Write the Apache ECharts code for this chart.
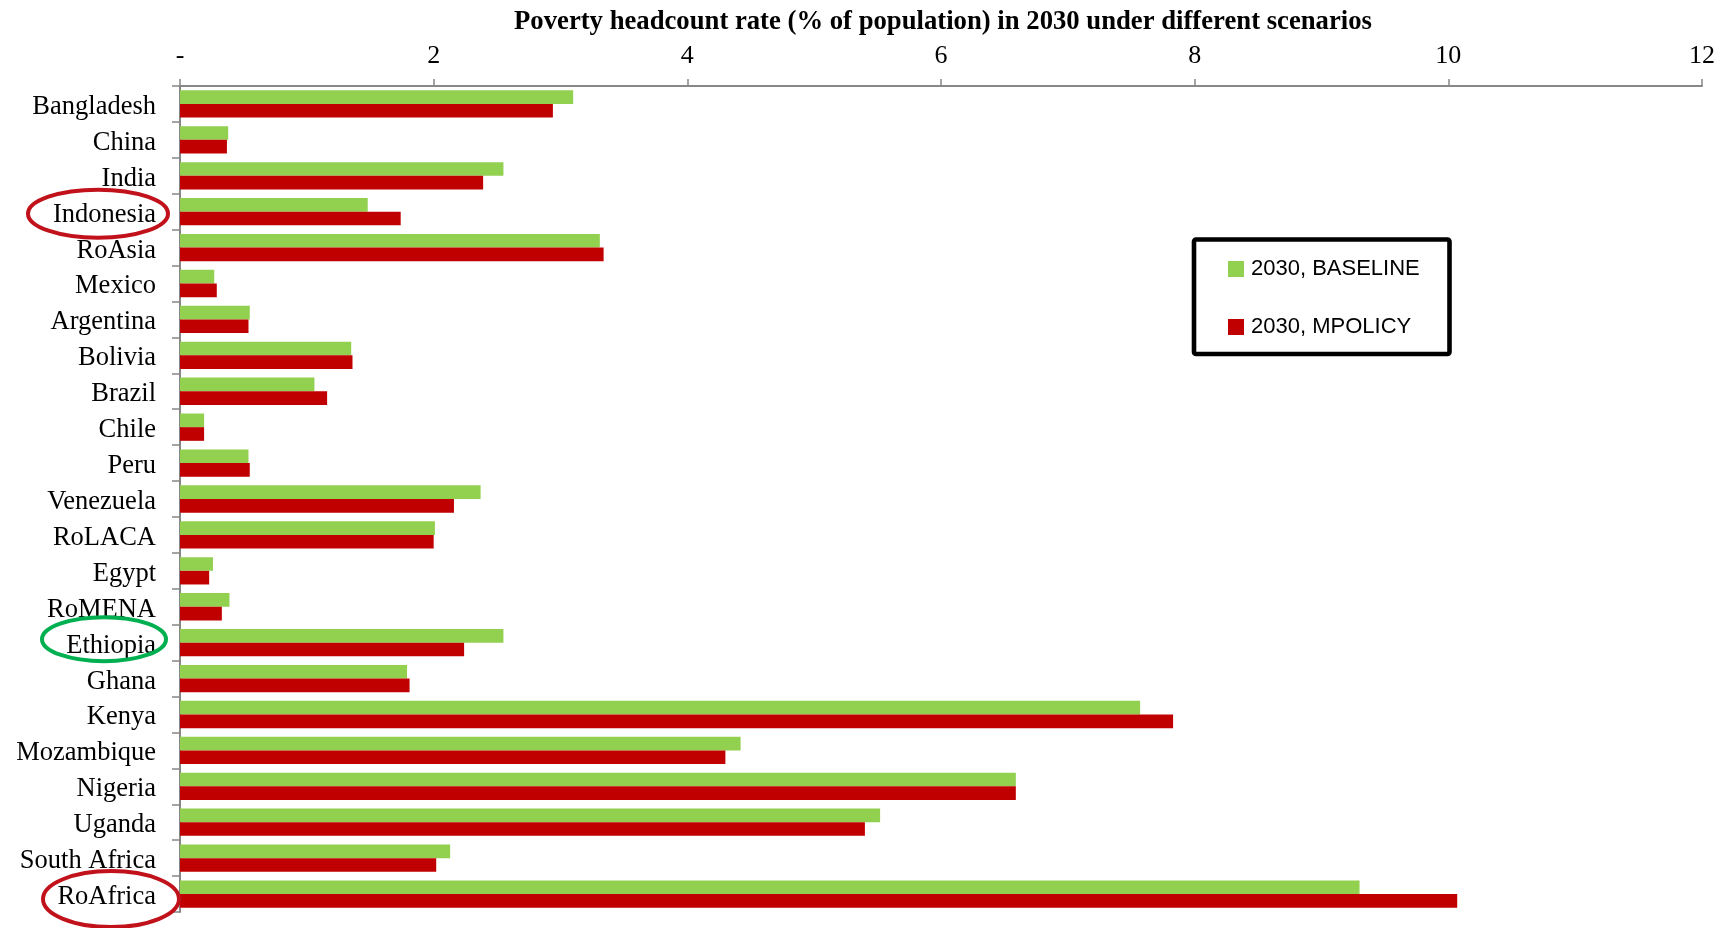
<!DOCTYPE html>
<html>
<head>
<meta charset="utf-8">
<script src="https://cdn.jsdelivr.net/npm/echarts@6/dist/echarts.min.js"></script>
<style>
  html, body { margin: 0; padding: 0; background: #ffffff; }
  #chart { width: 1732px; height: 928px; }
</style>
</head>
<body>
<div id="chart"></div>
<script>
// Countries / regions, top to bottom
const countries = [
  'Bangladesh', 'China', 'India', 'Indonesia', 'RoAsia', 'Mexico', 'Argentina',
  'Bolivia', 'Brazil', 'Chile', 'Peru', 'Venezuela', 'RoLACA', 'Egypt', 'RoMENA',
  'Ethiopia', 'Ghana', 'Kenya', 'Mozambique', 'Nigeria', 'Uganda', 'South Africa', 'RoAfrica'
];

// Poverty headcount rate (% of population), 2030
const baseline2030 = [
  3.10, 0.38, 2.55, 1.48, 3.31, 0.27, 0.55,
  1.35, 1.06, 0.19, 0.54, 2.37, 2.01, 0.26, 0.39,
  2.55, 1.79, 7.57, 4.42, 6.59, 5.52, 2.13, 9.30
];
const mpolicy2030 = [
  2.94, 0.37, 2.39, 1.74, 3.34, 0.29, 0.54,
  1.36, 1.16, 0.19, 0.55, 2.16, 2.00, 0.23, 0.33,
  2.24, 1.81, 7.83, 4.30, 6.59, 5.40, 2.02, 10.07
];

const seriesNames = ['2030, BASELINE', '2030, MPOLICY'];
const valueTicks = { min: 0, max: 12, interval: 2 };

const chart = echarts.init(document.getElementById('chart'));

const serif = '"Liberation Serif", "Times New Roman", serif';
const axisGrey = '#878787';

chart.setOption({
  backgroundColor: '#ffffff',
  animation: false,
  title: {
    text: 'Poverty headcount rate (% of population) in 2030 under different scenarios',
    left: 938,
    textAlign: 'center',
    top: 4,
    textStyle: { fontFamily: serif, fontWeight: 'bold', fontSize: 26.7, color: '#000' }
  },
  legend: {
    orient: 'vertical',
    left: 1223,
    top: 253,
    itemWidth: 16,
    itemHeight: 16,
    itemGap: 36,
    icon: 'rect',
    data: seriesNames,
    textStyle: {
      fontFamily: '"Liberation Sans", Arial, sans-serif',
      fontSize: 22,
      lineHeight: 22,
      color: '#000',
      padding: [0, 0, 0, 2]
    }
  },
  grid: { left: 180, right: 30, top: 86, bottom: 16, containLabel: false },
  xAxis: {
    type: 'value',
    position: 'top',
    min: valueTicks.min,
    max: valueTicks.max,
    interval: valueTicks.interval,
    splitLine: { show: false },
    axisLine: { show: true, lineStyle: { color: axisGrey, width: 2 } },
    axisTick: { show: true, length: 7, lineStyle: { color: axisGrey, width: 1.5 } },
    axisLabel: {
      margin: 17,
      fontFamily: serif,
      fontSize: 26,
      color: '#000',
      formatter: v => (v === 0 ? '-' : String(v))
    }
  },
  yAxis: {
    type: 'category',
    inverse: true,
    data: countries,
    axisLine: { show: true, lineStyle: { color: axisGrey, width: 2 } },
    axisTick: { show: true, length: 8, lineStyle: { color: axisGrey, width: 1.5 } },
    axisLabel: {
      margin: 24,
      verticalAlign: 'top',
      lineHeight: 6,
      fontFamily: serif,
      fontSize: 26.5,
      color: '#000'
    }
  },
  series: [
    {
      name: seriesNames[0],
      type: 'bar',
      data: baseline2030,
      barGap: '0%',
      barCategoryGap: '24%',
      itemStyle: { color: '#92d050' }
    },
    {
      name: seriesNames[1],
      type: 'bar',
      data: mpolicy2030,
      barGap: '0%',
      barCategoryGap: '24%',
      itemStyle: { color: '#c00000' }
    }
  ]
});

// Legend frame and the highlight ellipses around selected country labels
const yOf = name => chart.convertToPixel({ yAxisIndex: 0 }, name);
const highlights = [
  { name: 'Indonesia', cx: 98,  dy: 2,    rx: 70, ry: 24, color: '#c1121c' },
  { name: 'Ethiopia',  cx: 104, dy: -3.5, rx: 62, ry: 22, color: '#00b050' },
  { name: 'RoAfrica',  cx: 111, dy: 5,    rx: 68, ry: 28, color: '#c1121c' }
];

const graphics = [{
  type: 'rect',
  shape: { x: 1194, y: 239.5, width: 255.5, height: 114.5, r: 2 },
  style: { fill: 'transparent', stroke: '#000', lineWidth: 4.6 },
  z: 100
}];
highlights.forEach(h => {
  graphics.push({
    type: 'ellipse',
    shape: { cx: h.cx, cy: yOf(h.name) + h.dy, rx: h.rx, ry: h.ry },
    style: { fill: 'transparent', stroke: h.color, lineWidth: 4 },
    z: 100
  });
});
chart.setOption({ graphic: graphics });
</script>
</body>
</html>
